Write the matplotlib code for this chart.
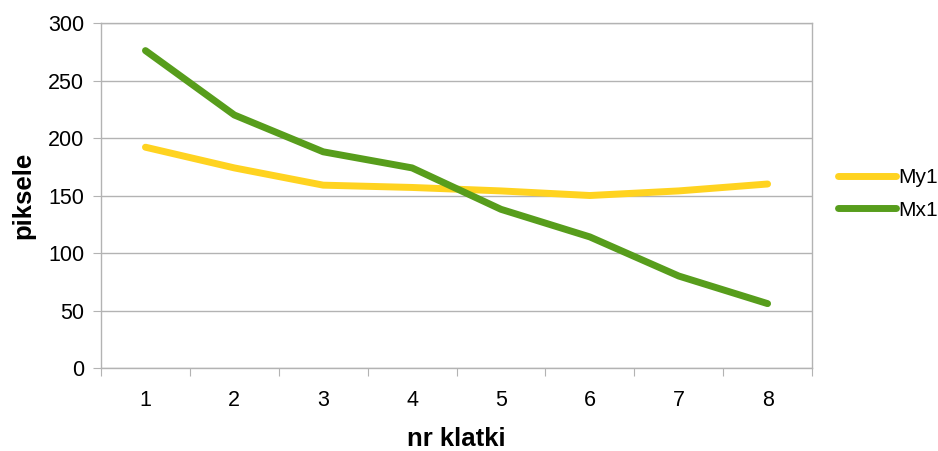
import matplotlib
matplotlib.use("Agg")
import matplotlib.pyplot as plt
import numpy as np

plt.rcParams['font.family'] = ['Liberation Sans', 'DejaVu Sans']

frames = [1, 2, 3, 4, 5, 6, 7, 8]
my1 = [192, 174, 159, 157, 154, 150, 154, 160]
mx1 = [276, 220, 188, 174, 138, 114, 80, 56]
y_ticks = [0, 50, 100, 150, 200, 250, 300]

grid_col = '#b3b3b3'

fig = plt.figure(figsize=(9.38, 4.51), dpi=100)
ax = fig.add_axes([0.1077, 0.184, 0.7580, 0.765])

ax.plot(frames, my1, color='#ffd320', lw=5.0, solid_capstyle='round',
        solid_joinstyle='round', label='My1', zorder=3)
ax.plot(frames, mx1, color='#579d1c', lw=5.0, solid_capstyle='round',
        solid_joinstyle='round', label='Mx1', zorder=3)

ax.set_xlim(0.5, 8.5)
ax.set_ylim(0, 300)

# category boundaries as tick marks, labels centred on categories
ax.set_xticks(np.arange(0.5, 9.0, 1.0))
ax.set_xticklabels([])
ax.set_xticks(frames, minor=True)
ax.set_xticklabels([str(f) for f in frames], minor=True)
ax.tick_params(axis='x', which='major', length=6, color=grid_col, direction='out')
ax.tick_params(axis='x', which='minor', length=0, pad=16, labelsize=15.5)

ax.set_yticks(y_ticks)
ax.tick_params(axis='y', length=6, color=grid_col, direction='out', pad=6, labelsize=15.5)
ax.yaxis.grid(True, color=grid_col, lw=1.0)
ax.set_axisbelow(True)

for side in ['left', 'bottom', 'right', 'top']:
    ax.spines[side].set_color(grid_col)
    ax.spines[side].set_linewidth(1.0)

ax.set_xlabel('nr klatki', fontsize=18.5, fontweight='bold', labelpad=11)
ax.set_ylabel('piksele', fontsize=18.5, fontweight='bold', labelpad=9)

leg = fig.legend(loc='center left', bbox_to_anchor=(0.884, 0.57), frameon=False,
                 fontsize=15, handlelength=2.8, handletextpad=0.1,
                 labelspacing=0.65, borderaxespad=0)

fig.savefig('out.png', dpi=100)
